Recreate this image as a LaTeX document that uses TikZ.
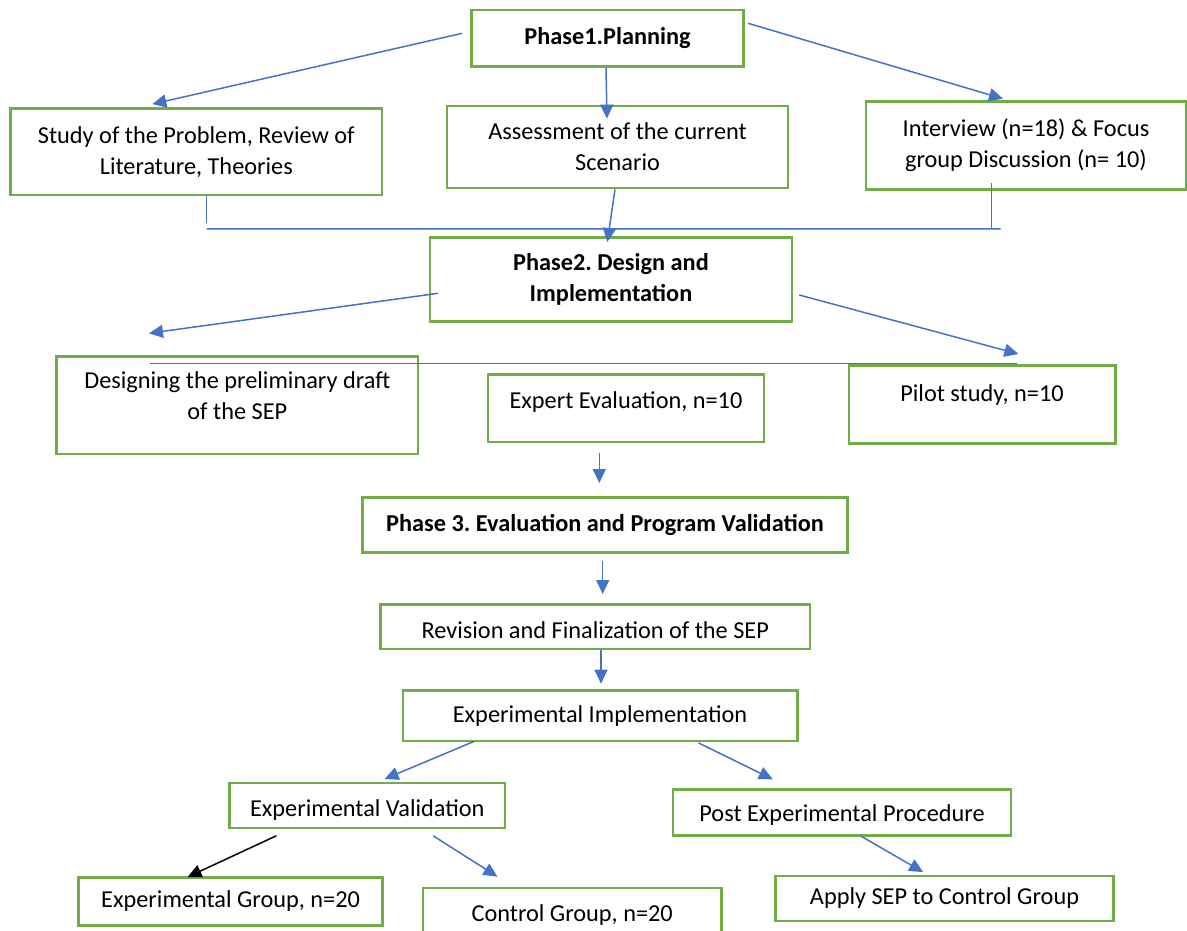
\documentclass[tikz,border=0pt]{standalone}
\usepackage{fontspec}
\setmainfont{Carlito}
\usepackage{tikz}
\usetikzlibrary{arrows.meta}
\definecolor{boxgreen}{HTML}{70AD47}
\definecolor{linkblue}{HTML}{4472C4}

\begin{document}
\frenchspacing
\begin{tikzpicture}[x=1pt, y=-1pt,
            block/.style={rectangle, draw=boxgreen, line width=2.5pt, inner sep=0pt,
                          align=center, font=\fontsize{24.3}{31}\selectfont},
            phase/.style={block, font=\fontsize{24.3}{31}\selectfont\bfseries},
            link/.style={draw=linkblue, line width=1.5pt, -{Triangle[length=14pt, width=13pt]}},
            blacklink/.style={link, draw=black},
            bar/.style={draw=linkblue, line width=1.5pt}
        ]
            \useasboundingbox (0,0) rectangle (1187,931);
            \clip (0,0) rectangle (1187,931);

            % Phase 1
            \node[phase, minimum width=272pt, minimum height=56.7pt] (p1) at (607.5,38.3) {Phase1.Planning};
            \node[block, minimum width=371.3pt, minimum height=86.7pt] (p1a) at (196.3,151.7) {Study of the Problem, Review of\\ Literature, Theories};
            \node[block, minimum width=341pt, minimum height=82.3pt] (p1b) at (617.5,147) {Assessment of the current\\ Scenario};
            \node[block, minimum width=320pt, minimum height=87.6pt] (p1c) at (1026,145.5) {Interview (n=18) \& Focus\\ group Discussion (n= 10)};
            \draw[link] ([xshift=-8pt, yshift=5pt]p1.west) -- ([xshift=-44pt, yshift=3pt]p1a.north);
            \draw[link] ([xshift=-1.5pt]p1.south) -- ([xshift=-10.5pt, yshift=-14pt]p1b.north);
            \draw[link] ([xshift=3.4pt, yshift=15pt]p1.east) -- ([xshift=-23pt, yshift=1.7pt]p1c.north);
            \draw[bar] ([xshift=10.4pt]p1a.south) -- ++(0,27);
            \draw[bar] ([xshift=-34.3pt, yshift=7.3pt]p1c.south) -- ++(0,45.7);
            \draw[bar] ([xshift=10.4pt, yshift=-32.5pt]p1a.south) -- ([xshift=-25.5pt, yshift=-38.2pt]p1c.south);

            % Phase 2
            \node[phase, minimum width=362pt, minimum height=84.4pt] (p2) at (611,279.5) {Phase2. Design and\\ Implementation};
            \node[block, anchor=north, minimum width=361.4pt, text height=63.7pt, text depth=34pt] (p2a) at (237.3,355) {Designing the preliminary draft\\ of the SEP};
            \node[block, anchor=north, minimum width=276pt, text height=33.7pt, text depth=33.7pt] (p2b) at (626,373.3) {Expert Evaluation, n=10};
            \node[block, anchor=north, minimum width=266.5pt, text height=36.3pt, text depth=42pt] (p2c) at (982,364) {Pilot study, n=10};
            \draw[link] ([xshift=-2.5pt]p1b.south) -- ([xshift=-3.7pt, yshift=-6pt]p2.north);
            \draw[link] ([xshift=9.3pt, yshift=-13.8pt]p2.west) -- ([xshift=-88.3pt, yshift=21.7pt]p2a.north);
            \draw[link] ([xshift=6pt, yshift=-15.5pt]p2.east) -- ([xshift=36.4pt, yshift=10pt]p2c.north);
            \draw[bar] ([xshift=-87.3pt, yshift=-8.3pt]p2a.north) -- ([xshift=34.5pt, yshift=0.7pt]p2c.north);

            % Phase 3
            \node[phase, minimum width=484.6pt, minimum height=55.4pt] (p3) at (605,525) {Phase 3. Evaluation and Program Validation};
            \node[block, anchor=north, minimum width=429.3pt, text height=33.7pt, text depth=10.7pt] (r) at (595.3,603.3) {Revision and Finalization of the SEP};
            \node[block, minimum width=394.5pt, minimum height=50.5pt] (e) at (600,715.7) {Experimental Implementation};
            \draw[link] ([xshift=-26.7pt, yshift=-9.3pt]p2b.south) -- ([xshift=-5.7pt, yshift=13pt]p3.north);
            \draw[link] ([xshift=-2.3pt, yshift=-6.6pt]p3.south) -- ([xshift=7.4pt, yshift=9.3pt]r.north);
            \draw[link] ([xshift=5.7pt]r.south) -- ([xshift=1pt, yshift=5.5pt]e.north);

            % Validation and follow-up
            \node[block, anchor=north, minimum width=275.4pt, text height=33.6pt, text depth=11.4pt] (v) at (367.3,781.7) {Experimental Validation};
            \node[block, anchor=north, minimum width=338pt, text height=32pt, text depth=13.7pt] (pe) at (842,788.3) {Post Experimental Procedure};
            \node[block, minimum width=304.2pt, minimum height=48.4pt] (v1) at (230.6,901.5) {Experimental Group, n=20};
            \node[block, anchor=north, minimum width=298.4pt, text height=33.3pt, text depth=26.7pt] (v2) at (572.2,886.7) {Control Group, n=20};
            \node[block, minimum width=338.1pt, minimum height=44.7pt] (pe1) at (944.5,898.4) {Apply SEP to Control Group};
            \draw[link] ([xshift=-125.5pt, yshift=1pt]e.south) -- ([xshift=17.3pt, yshift=2.7pt]v.north);
            \draw[link] ([xshift=98.5pt, yshift=-0.7pt]e.south) -- ([xshift=-69.2pt, yshift=9pt]pe.north);
            \draw[blacklink] ([xshift=-91pt, yshift=-6.6pt]v.south) -- ([xshift=-43.1pt, yshift=-1pt]v1.north);
            \draw[link] ([xshift=65.9pt, yshift=-6.6pt]v.south) -- ([xshift=-74.7pt, yshift=10pt]v2.north);
            \draw[link] ([xshift=18.4pt, yshift=0.7pt]pe.south) -- ([xshift=-21.3pt, yshift=2.7pt]pe1.north);

        \end{tikzpicture}
\end{document}
